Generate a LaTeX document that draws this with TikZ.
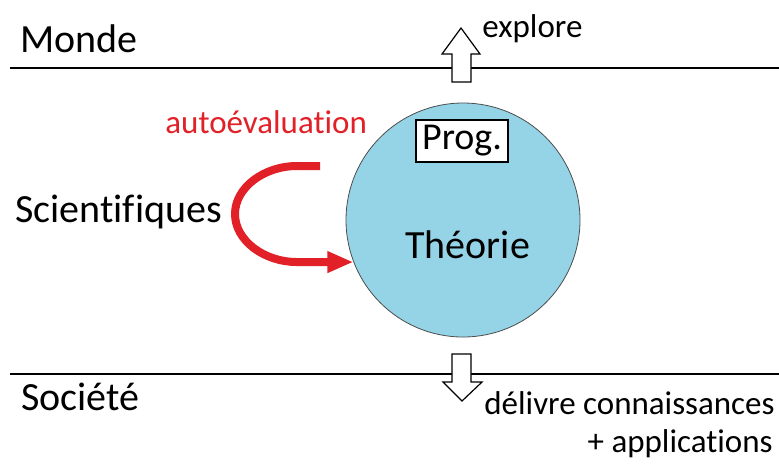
\documentclass[tikz,border=0pt]{standalone}
\usepackage{fontspec}
\setmainfont{Carlito}[Ligatures=CommonOff]
\usetikzlibrary{arrows.meta,positioning}
\definecolor{skyblue}{RGB}{148,212,230}
\definecolor{evalred}{RGB}{226,32,40}

\begin{document}
\begin{tikzpicture}[
    x=0.5pt, y=-0.5pt,
    label/.style={anchor=base west, inner sep=0pt, font=\fontsize{20}{24}\selectfont},
    note/.style={anchor=base west, inner sep=0pt, font=\fontsize{16.5}{20}\selectfont},
    border/.style={line width=0.8pt},
    blockarrow/.style={draw, fill=white, line width=0.6pt, line join=miter},
    loop/.style={-{Triangle[length=13pt, width=10pt]}, line width=4pt, evalred}
]
\useasboundingbox (0,0) rectangle (779,463);

% the two levels
\draw[border] (10,68) -- (779,68);
\draw[border] (10,374) -- (779,374);

\node[label] (monde) at (20,52) {Monde};
\node[label] (societe) at (21,410) {Société};
\node[label] (scient) at (15,222) {Scientifiques};

% theory
\node[circle, draw=black!70, fill=skyblue, minimum size=117pt, inner sep=0pt] (theo) at (463,220) {};
\node[label] (theorie) at (405,258) {Théorie};
\node[draw, fill=white, line width=0.6pt, minimum width=46pt, minimum height=21pt, inner sep=0pt,
      font=\fontsize{19}{23}\selectfont] (prog) at (462,141) {Prog.};

% explore / deliver
\draw[blockarrow] (452,82) -- (452,54) -- (442,54) -- (461,28) -- (480,54) -- (471,54) -- (471,82) -- cycle;
\node[note] (explore) at (482,37) {explore};

\draw[blockarrow] (452,354) -- (471,354) -- (471,382) -- (482,382) -- (462,401) -- (443,382) -- (452,382) -- cycle;
\node[note] (delivre) at (484,414) {délivre connaissances};
\node[note, anchor=base east] (appl) at (773,452) {+ applications};

% self-evaluation loop
\node[note, text=evalred] (autoeval) at (165,133) {autoévaluation};
\coordinate (start) at (320,166);
\draw[loop] (start) -- (297,166)
    .. controls (264,166) and (235,187.5) .. (235,214)
    .. controls (235,240.5) and (264,262) .. (297,262) -- (theo.201);

\end{tikzpicture}
\end{document}
